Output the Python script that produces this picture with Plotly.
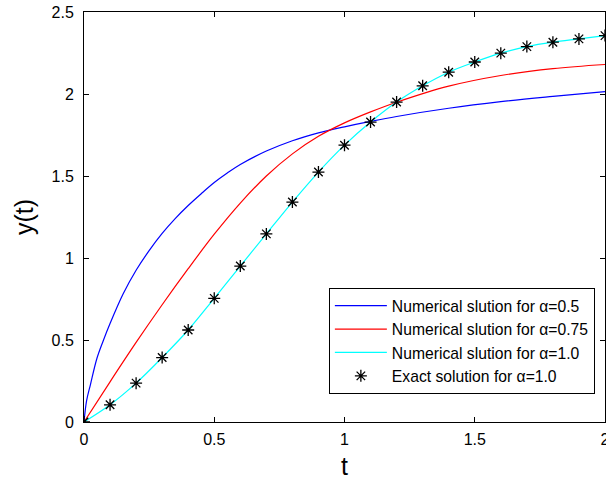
import plotly.graph_objects as go

# Numerical solution, alpha = 0.5
t_a05 = [0, 0.01, 0.025, 0.05, 0.075, 0.1, 0.15, 0.2, 0.25, 0.3, 0.35, 0.4, 0.45,
         0.5, 0.55, 0.6, 0.7, 0.8, 0.9, 1.0, 1.1, 1.2, 1.4, 1.6, 1.8, 2.0]
y_a05 = [0, 0.13, 0.23, 0.39, 0.50, 0.60, 0.78, 0.925, 1.045, 1.15, 1.24, 1.32,
         1.392, 1.46, 1.518, 1.57, 1.652, 1.715, 1.763, 1.80, 1.833, 1.863, 1.913,
         1.953, 1.985, 2.014]

# Numerical solution, alpha = 0.75
t_a075 = [0, 0.1, 0.2, 0.3, 0.4, 0.5, 0.6, 0.7, 0.8, 0.9, 1.0, 1.1, 1.2,
          1.4, 1.6, 1.8, 2.0]
y_a075 = [0, 0.245, 0.485, 0.715, 0.935, 1.145, 1.335, 1.50, 1.635, 1.742, 1.824,
          1.891, 1.95, 2.048, 2.113, 2.155, 2.18]

# Numerical and exact solution, alpha = 1.0
t_a1 = [0, 0.1, 0.2, 0.3, 0.4, 0.5, 0.6, 0.7, 0.8, 0.9, 1.0, 1.1, 1.2, 1.3,
        1.4, 1.5, 1.6, 1.7, 1.8, 1.9, 2.0]
y_a1 = [0, 0.105, 0.237, 0.393, 0.561, 0.754, 0.951, 1.147, 1.341, 1.524,
        1.688, 1.829, 1.951, 2.05, 2.133, 2.195, 2.249, 2.289, 2.316, 2.336, 2.356]

x_ticks = [0, 0.5, 1, 1.5, 2]
x_tick_text = ["0", "0.5", "1", "1.5", "2"]
y_ticks = [0, 0.5, 1, 1.5, 2, 2.5]
y_tick_text = ["0", "0.5", "1", "1.5", "2", "2.5"]

fig = go.Figure()
fig.add_trace(go.Scatter(x=t_a05, y=y_a05, mode="lines", line_shape="spline",
                         line=dict(color="#0000ff", width=1.2), legendgroup="a",
                         name="Numerical slution for α=0.5"))
fig.add_trace(go.Scatter(x=t_a075, y=y_a075, mode="lines", line_shape="spline",
                         line=dict(color="#ff0000", width=1.2), legendgroup="b",
                         name="Numerical slution for α=0.75"))
fig.add_trace(go.Scatter(x=t_a1, y=y_a1, mode="lines", line_shape="spline",
                         line=dict(color="#00ffff", width=1.2), legendgroup="c",
                         name="Numerical slution for α=1.0"))
fig.add_trace(go.Scatter(x=t_a1, y=y_a1, mode="markers", legendgroup="d",
                         marker=dict(symbol="asterisk", size=10, color="black",
                                     line=dict(color="black", width=1.3)),
                         name="Exact solution for α=1.0"))

axis_common = dict(
    showline=True, linecolor="black", linewidth=1, mirror="ticks",
    ticks="inside", ticklen=5, tickcolor="black", showgrid=False, zeroline=False,
    automargin=False,
    tickfont=dict(family="Liberation Sans, Arial, sans-serif", size=16, color="black"),
)

fig.update_layout(
    width=606, height=480,
    margin=dict(l=84, r=1, t=12, b=58),
    paper_bgcolor="white", plot_bgcolor="white",
    font=dict(family="Liberation Sans, Arial, sans-serif", color="black"),
    xaxis=dict(range=[0, 2], tickvals=x_ticks, ticktext=x_tick_text,
               ticklabeloverflow="allow", ticklabelstandoff=3,
               title=dict(text="t", font=dict(size=25), standoff=10), **axis_common),
    yaxis=dict(range=[0, 2.5], tickvals=y_ticks, ticktext=y_tick_text,
               ticklabelstandoff=6,
               title=dict(text="y(t)", font=dict(size=25), standoff=10), **axis_common),
    legend=dict(x=0.47, y=0.327, xanchor="left", yanchor="top",
                bgcolor="white", bordercolor="black", borderwidth=1,
                itemwidth=52,
                font=dict(size=15.7, color="black"), tracegroupgap=0),
    showlegend=True,
)

fig.write_html("out.html")
